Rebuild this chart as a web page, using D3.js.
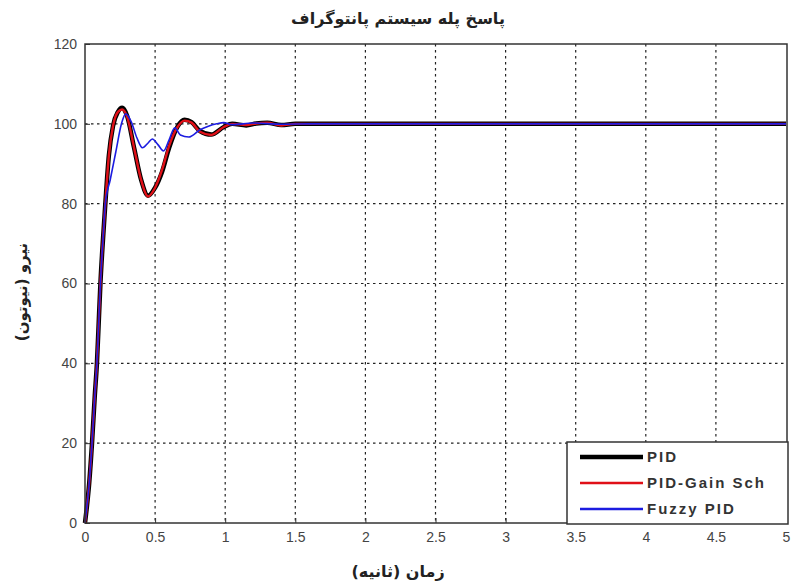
<!DOCTYPE html>
<html>
<head>
<meta charset="utf-8">
<script src="https://cdn.jsdelivr.net/npm/d3@7"></script>
<style>
  body { margin: 0; background: #fff; }
  text { font-family: "Liberation Sans", Arial, sans-serif; }
  .fa { font-family: "DejaVu Sans", sans-serif; font-weight: bold; }
</style>
</head>
<body>
<div id="chart"></div>
<script>
// temps (s) et force (N)
const tPid = [0, 0.01, 0.03, 0.05, 0.07, 0.085, 0.1, 0.11, 0.13, 0.145, 0.17, 0.2, 0.235, 0.265, 0.3, 0.35, 0.4, 0.45, 0.5, 0.55, 0.6, 0.66, 0.71, 0.76, 0.82, 0.9, 0.99, 1.05, 1.15, 1.22, 1.3, 1.4, 1.5, 2, 3, 4, 5];
const yPid = [0, 3, 10, 20, 32, 40, 52, 60, 72, 80, 92, 99.5, 103, 104, 102, 94, 86, 82, 84, 88, 94, 99.3, 101, 100.4, 98.2, 97.3, 99.2, 100, 99.6, 100.1, 100.3, 99.7, 100, 100, 100, 100, 100];

const tGain = [0, 0.01, 0.03, 0.05, 0.07, 0.085, 0.1, 0.11, 0.13, 0.145, 0.17, 0.2, 0.235, 0.265, 0.3, 0.35, 0.4, 0.45, 0.5, 0.55, 0.6, 0.66, 0.71, 0.76, 0.82, 0.9, 0.99, 1.05, 1.15, 1.22, 1.3, 1.4, 1.5, 2, 3, 4, 5];
const yGain = [0, 3, 10, 20, 32, 40, 52, 60, 72, 80, 92, 99.5, 103, 103.6, 101.8, 94, 86, 81.8, 84, 88.5, 94.5, 99.2, 100.8, 100.3, 98, 97.2, 99.2, 100, 99.7, 100.1, 100.3, 99.6, 100, 100, 100, 100, 100];

const tFuzzy = [0, 0.01, 0.03, 0.05, 0.07, 0.085, 0.1, 0.11, 0.13, 0.145, 0.18, 0.22, 0.26, 0.29, 0.33, 0.37, 0.41, 0.45, 0.48, 0.52, 0.56, 0.6, 0.64, 0.68, 0.74, 0.82, 0.88, 0.94, 0.99, 1.05, 1.2, 1.4, 1.6, 2, 3, 4, 5];
const yFuzzy = [0, 3, 10, 20, 32, 40, 52, 60, 72, 80, 86, 93, 100, 102.5, 100.5, 96.5, 94, 95.2, 96.2, 94.8, 93.2, 96, 99, 97.2, 96.7, 98.5, 99.4, 100, 100.3, 99.8, 100.2, 99.9, 100, 100, 100, 100, 100];

const xTicks = [0, 0.5, 1, 1.5, 2, 2.5, 3, 3.5, 4, 4.5, 5];
const yTicks = [0, 20, 40, 60, 80, 100, 120];

const series = [
  { name: 'PID', t: tPid, y: yPid, color: '#000000', width: 4.5 },
  { name: 'PID-Gain Sch', t: tGain, y: yGain, color: '#e01018', width: 2.4 },
  { name: 'Fuzzy PID', t: tFuzzy, y: yFuzzy, color: '#1c1ce0', width: 1.6 }
];

const W = 791, H = 584;
const margin = { top: 44, right: 4, bottom: 61, left: 85 };
const width = W - margin.left - margin.right;
const height = H - margin.top - margin.bottom;

const svg = d3.select('#chart').append('svg')
  .attr('width', W).attr('height', H);

const g = svg.append('g')
  .attr('transform', `translate(${margin.left},${margin.top})`);

const x = d3.scaleLinear().domain([0, 5]).range([0, width - 1]);
const y = d3.scaleLinear().domain([0, 120]).range([height, 0]);

// grille pointillée
g.append('g').selectAll('line')
  .data(xTicks.slice(1, -1))
  .join('line')
  .attr('x1', d => x(d)).attr('x2', d => x(d))
  .attr('y1', 0).attr('y2', height)
  .attr('stroke', '#222').attr('stroke-width', 1.2)
  .attr('stroke-dasharray', '2.5,3.5');

g.append('g').selectAll('line')
  .data(yTicks.slice(1, -1))
  .join('line')
  .attr('x1', 0).attr('x2', width)
  .attr('y1', d => y(d)).attr('y2', d => y(d))
  .attr('stroke', '#222').attr('stroke-width', 1.2)
  .attr('stroke-dasharray', '2.5,3.5');

// axes
const xAxis = g.append('g')
  .attr('transform', `translate(0,${height})`)
  .call(d3.axisBottom(x).tickValues(xTicks).tickFormat(d3.format('~g'))
    .tickSizeInner(-5).tickSizeOuter(0).tickPadding(9));
const yAxis = g.append('g')
  .call(d3.axisLeft(y).tickValues(yTicks).tickFormat(d3.format('~g'))
    .tickSizeInner(-5).tickSizeOuter(0).tickPadding(8));

[xAxis, yAxis].forEach(a => {
  a.select('.domain').remove();
  a.selectAll('line').attr('stroke', '#333');
  a.selectAll('text').attr('font-size', 14).attr('fill', '#444')
    .attr('font-family', '"Liberation Sans", Arial, sans-serif');
});

// courbes
const line = d3.line()
  .x(d => x(d[0]))
  .y(d => y(d[1]))
  .curve(d3.curveMonotoneX);

series.forEach(s => {
  g.append('path')
    .datum(d3.zip(s.t, s.y))
    .attr('d', line)
    .attr('fill', 'none')
    .attr('stroke', s.color)
    .attr('stroke-width', s.width)
    .attr('stroke-linejoin', 'round');
});

// cadre
g.append('rect')
  .attr('x', 0).attr('y', 0)
  .attr('width', width).attr('height', height)
  .attr('fill', 'none').attr('stroke', '#333').attr('stroke-width', 1.5);

// légende
const lg = svg.append('g').attr('transform', 'translate(567,442)');
lg.append('rect')
  .attr('width', 221).attr('height', 82)
  .attr('fill', '#fff').attr('stroke', '#333').attr('stroke-width', 1.5);

series.forEach((s, i) => {
  const yy = 15 + i * 26;
  lg.append('line')
    .attr('x1', 13).attr('x2', 76)
    .attr('y1', yy).attr('y2', yy)
    .attr('stroke', s.color).attr('stroke-width', i === 0 ? 4.5 : 2.5);
  lg.append('text')
    .attr('x', 80).attr('y', yy + 5)
    .attr('font-size', 15).attr('font-weight', 'bold')
    .attr('letter-spacing', 2)
    .attr('fill', '#333')
    .text(s.name);
});

// titres
svg.append('text').attr('class', 'fa')
  .attr('x', 398).attr('y', 24)
  .attr('text-anchor', 'middle').attr('font-size', 16).attr('fill', '#222')
  .text('پاسخ پله سیستم پانتوگراف');

svg.append('text').attr('class', 'fa')
  .attr('x', 398).attr('y', 577)
  .attr('text-anchor', 'middle').attr('font-size', 16).attr('fill', '#222')
  .text('زمان (ثانیه)');

svg.append('text').attr('class', 'fa')
  .attr('transform', 'translate(27,292) rotate(-90)')
  .attr('text-anchor', 'middle').attr('font-size', 15).attr('fill', '#222')
  .text('نیرو (نیوتون)');
</script>
</body>
</html>
